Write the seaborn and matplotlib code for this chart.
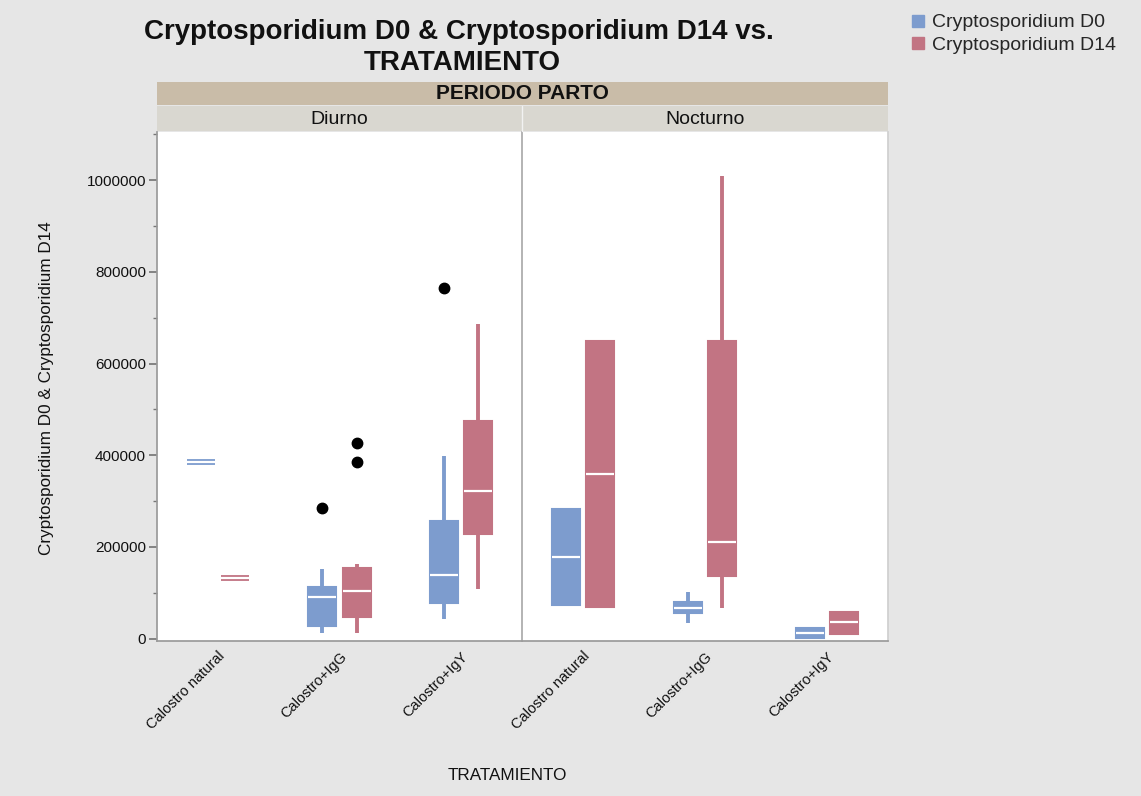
import numpy as np
import pandas as pd
import matplotlib
matplotlib.use("Agg")
import matplotlib.pyplot as plt
import seaborn as sns
from matplotlib.patches import Rectangle
from matplotlib.lines import Line2D
from matplotlib.ticker import MultipleLocator

sns.set_theme(style="white")
plt.rcParams['font.family'] = ['Liberation Sans', 'DejaVu Sans']

treatments = ["Calostro natural", "Calostro+IgG", "Calostro+IgY"]
periods = ["Diurno", "Nocturno"]
series = ["Cryptosporidium D0", "Cryptosporidium D14"]

# Diurno
diurno_natural_d0 = [385000]
diurno_natural_d14 = [133000]
diurno_igg_d0 = [13000, 20000, 28000, 60000, 90000, 100000, 112000, 151000, 284000]
diurno_igg_d14 = [13000, 30000, 40000, 48000, 70000, 90000, 103000, 120000, 140000,
                  155000, 164000, 385000, 427000]
diurno_igy_d0 = [44000, 60000, 78000, 110000, 138000, 200000, 256000, 398000, 764000]
diurno_igy_d14 = [109000, 228000, 322000, 475000, 687000]
# Nocturno
nocturno_natural_d0 = [74000, 74000, 179000, 282000, 282000]
nocturno_natural_d14 = [70000, 70000, 359000, 650000, 650000]
nocturno_igg_d0 = [35000, 57000, 68000, 79000, 101000]
nocturno_igg_d14 = [66000, 136000, 210000, 650000, 1009000]
nocturno_igy_d0 = [2000, 2000, 13000, 24000, 24000]
nocturno_igy_d14 = [11000, 11000, 37000, 59000, 59000]

groups = [
    ("Diurno", "Calostro natural", series[0], diurno_natural_d0),
    ("Diurno", "Calostro natural", series[1], diurno_natural_d14),
    ("Diurno", "Calostro+IgG", series[0], diurno_igg_d0),
    ("Diurno", "Calostro+IgG", series[1], diurno_igg_d14),
    ("Diurno", "Calostro+IgY", series[0], diurno_igy_d0),
    ("Diurno", "Calostro+IgY", series[1], diurno_igy_d14),
    ("Nocturno", "Calostro natural", series[0], nocturno_natural_d0),
    ("Nocturno", "Calostro natural", series[1], nocturno_natural_d14),
    ("Nocturno", "Calostro+IgG", series[0], nocturno_igg_d0),
    ("Nocturno", "Calostro+IgG", series[1], nocturno_igg_d14),
    ("Nocturno", "Calostro+IgY", series[0], nocturno_igy_d0),
    ("Nocturno", "Calostro+IgY", series[1], nocturno_igy_d14),
]
rows = []
for per, trt, ser, vals in groups:
    for v in vals:
        rows.append({"PERIODO": per, "TRATAMIENTO": trt, "Serie": ser, "Valor": v})
df = pd.DataFrame(rows)

blue = "#7d9cce"
red = "#c27483"
palette = {series[0]: blue, series[1]: red}

W, H = 1141, 796
fig = plt.figure(figsize=(W / 100, H / 100), dpi=100)
fig.patch.set_facecolor("#e6e6e6")

def fx(px):
    return px / W

def fy(py):
    return 1 - py / H

ax_left, ax_right, ax_top, ax_bot = 157, 888, 132, 641
mid = 522
axes = []
for i, per in enumerate(periods):
    l = ax_left if i == 0 else mid
    r = mid if i == 0 else ax_right
    ax = fig.add_axes([fx(l), fy(ax_bot), fx(r - l), fy(ax_top) - fy(ax_bot)])
    axes.append(ax)
    sub = df[df["PERIODO"] == per]
    sns.boxplot(data=sub, x="TRATAMIENTO", y="Valor", hue="Serie", order=treatments,
                hue_order=series, palette=palette, ax=ax, width=0.56, gap=0.18,
                whis=1.5, saturation=1, legend=False,
                boxprops=dict(linewidth=1.5),
                whiskerprops=dict(linewidth=2.8),
                capprops=dict(linewidth=0),
                medianprops=dict(color="white", linewidth=1.6),
                flierprops=dict(marker="o", markerfacecolor="black",
                                markeredgecolor="black", markersize=7.5))
    # color boxes and whiskers like the fill
    for cont, ser in zip(ax.containers, series):
        col = palette[ser]
        for b in cont.boxes:
            b.set_edgecolor(col)
            b.set_facecolor(col)
            ext = b.get_path().get_extents()
            if ext.height == 0:
                # single-observation group: draw as a thick flat bar
                b.set_linewidth(4.2)
        for w in cont.whiskers:
            w.set_color(col)
            w.set_solid_capstyle("butt")
        for c in cont.caps:
            c.set_visible(False)
        for m in cont.medians:
            m.set_color("white")
            m.set_linewidth(1.6)
            m.set_zorder(5)
    ax.set_facecolor("white")
    ax.set_ylim(-5000, 1105000)
    ax.set_xlim(-0.5, 2.5)
    ax.set_xlabel("")
    ax.set_ylabel("")
    ax.set_xticks(range(3))
    ax.set_xticklabels(treatments, rotation=45, ha="right", rotation_mode="anchor",
                       fontsize=10.5, color="#111111")
    ax.tick_params(axis="x", length=0, pad=6)
    for s in ["top", "right"]:
        ax.spines[s].set_visible(False)
    ax.spines["bottom"].set_color("#9a9a9a")
    ax.spines["left"].set_color("#9a9a9a")
    if i == 0:
        ax.yaxis.set_major_locator(MultipleLocator(200000))
        ax.yaxis.set_minor_locator(MultipleLocator(100000))
        ax.tick_params(axis="y", which="major", length=6, color="#777777",
                       labelsize=11, left=True, pad=2, labelcolor="#111111")
        ax.tick_params(axis="y", which="minor", length=3, color="#777777", left=True)
        ax.set_yticklabels([f"{int(t)}" for t in ax.get_yticks()])
        ax.set_ylim(-5000, 1105000)
    else:
        ax.set_yticks([])
        ax.spines["left"].set_color("#aaaaaa")
        ax.spines["right"].set_visible(True)
        ax.spines["right"].set_color("#cfcfcf")

# strips
fig.patches.append(Rectangle((fx(ax_left), fy(105)), fx(ax_right - ax_left), fy(82) - fy(105),
                             transform=fig.transFigure, facecolor="#c9bca8",
                             edgecolor="none", zorder=0))
fig.text(fx((ax_left + ax_right) / 2), fy(93.5), "PERIODO PARTO", ha="center", va="center",
         fontsize=15, fontweight="bold", color="#111111")
for i, per in enumerate(periods):
    l = ax_left if i == 0 else mid
    r = mid if i == 0 else ax_right
    fig.patches.append(Rectangle((fx(l), fy(131)), fx(r - l), fy(106) - fy(131),
                                 transform=fig.transFigure, facecolor="#d9d7d0",
                                 edgecolor="none", zorder=0))
    fig.text(fx((l + r) / 2), fy(119), per, ha="center", va="center", fontsize=14,
             color="#111111")
fig.lines.append(Line2D([fx(mid), fx(mid)], [fy(131), fy(106)], transform=fig.transFigure,
                        color="#f2f2f2", linewidth=1))

# title
fig.text(fx(459), fy(32), "Cryptosporidium D0 & Cryptosporidium D14 vs.", ha="center",
         va="center", fontsize=20, fontweight="bold", color="#111111")
fig.text(fx(462), fy(63), "TRATAMIENTO", ha="center", va="center", fontsize=20,
         fontweight="bold", color="#111111")

# axis labels
fig.text(fx(47), fy(388), "Cryptosporidium D0 & Cryptosporidium D14",
         rotation=90, ha="center", va="center", fontsize=12.3, color="#111111")
fig.text(fx(507), fy(776), "TRATAMIENTO", ha="center", va="center",
         fontsize=12.3, color="#111111")

# legend
handles = [Line2D([0], [0], marker="s", linestyle="none", markersize=8,
                  markerfacecolor=palette[s], markeredgecolor=palette[s]) for s in series]
fig.legend(handles, series, loc="upper left", bbox_to_anchor=(fx(900), fy(6)),
           frameon=False, fontsize=14, handletextpad=0.25, labelspacing=0.25,
           borderaxespad=0, handlelength=1.0)

fig.savefig("out.png", dpi=100, facecolor=fig.get_facecolor())
